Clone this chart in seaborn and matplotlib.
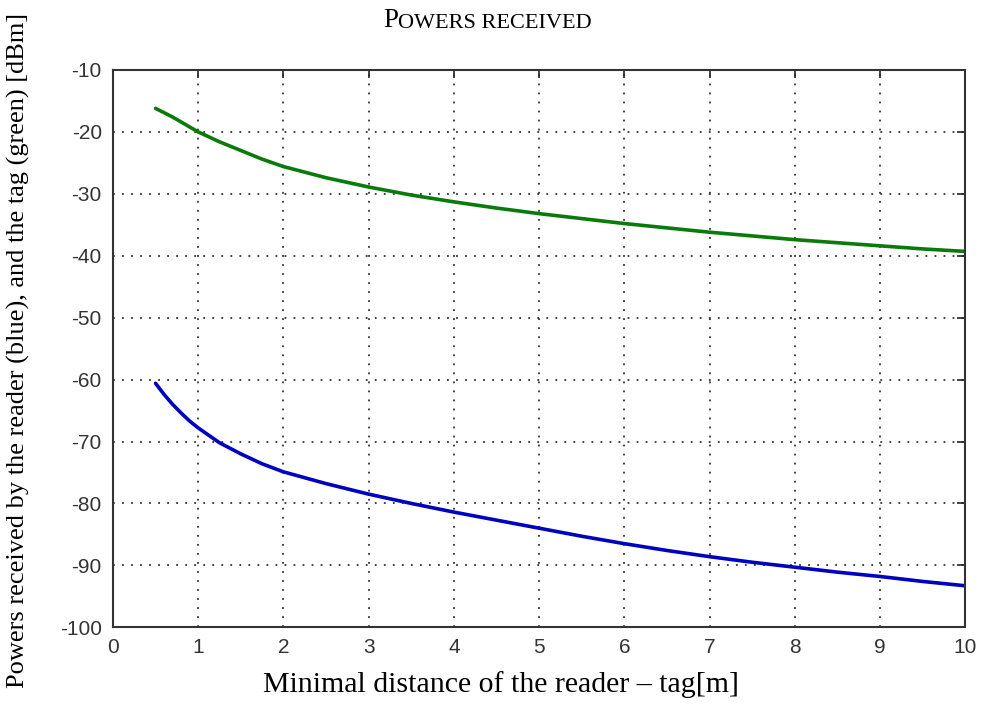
import numpy as np
import pandas as pd
import matplotlib
matplotlib.use("Agg")
import matplotlib.pyplot as plt
import seaborn as sns

# data
distance = [0.5, 0.6, 0.7, 0.8, 0.9, 1.0, 1.25, 1.5, 1.75, 2.0, 2.5, 3.0, 3.5, 4.0, 4.5,
            5.0, 5.5, 6.0, 6.5, 7.0, 7.5, 8.0, 8.5, 9.0, 9.5, 10.0]
tag_power = [-16.2, -16.9, -17.6, -18.4, -19.2, -20.0, -21.6, -23.0, -24.4, -25.6, -27.4,
             -28.9, -30.2, -31.3, -32.3, -33.2, -34.0, -34.8, -35.5, -36.2, -36.8, -37.4,
             -37.9, -38.4, -38.9, -39.3]
reader_power = [-60.6, -62.4, -64.0, -65.4, -66.7, -67.8, -70.2, -72.0, -73.6, -74.9, -76.8,
                -78.5, -80.0, -81.4, -82.7, -84.0, -85.3, -86.5, -87.6, -88.6, -89.5, -90.3,
                -91.1, -91.8, -92.6, -93.3]
x_ticks = [0, 1, 2, 3, 4, 5, 6, 7, 8, 9, 10]
y_ticks = [-100, -90, -80, -70, -60, -50, -40, -30, -20, -10]

sns.set_style("white")
plt.rcParams["font.family"] = ["Liberation Sans", "DejaVu Sans"]

df = pd.DataFrame({
    "distance": distance * 2,
    "power": tag_power + reader_power,
    "who": ["tag"] * len(distance) + ["reader"] * len(distance),
})

fig = plt.figure(figsize=(9.82, 7.04), dpi=100)
ax = fig.add_axes([0.115, 0.109, 0.868, 0.7916])

sns.lineplot(data=df, x="distance", y="power", hue="who",
             palette={"tag": "#0a7a0a", "reader": "#0000c0"},
             linewidth=2.6, legend=False, ax=ax, sort=True, estimator=None)

ax.set_xlim(0, 10)
ax.set_ylim(-100, -10)
ax.set_xticks(x_ticks)
ax.set_yticks(y_ticks)
ax.set_xticklabels([str(t) for t in x_ticks])
ax.set_yticklabels([str(t) for t in y_ticks])
ax.tick_params(direction="in", length=6, width=1.2, labelsize=15, colors="#222222",
               top=True, right=True)
ax.tick_params(axis="x", labelcolor="#333333", pad=8)
ax.tick_params(axis="y", labelcolor="#333333", pad=8)
ax.grid(True, color="#333333", linestyle=(0, (1, 4)), linewidth=1.3)
for s in ax.spines.values():
    s.set_color("#333333")
    s.set_linewidth(1.5)

ax.set_xlabel("Minimal distance of the reader \u2013 tag[m]", family="Liberation Serif",
              fontsize=21.5, color="black")
ax.xaxis.set_label_coords(0.455, -0.078)
ax.set_ylabel("Powers received by the reader (blue), and the tag (green) [dBm]",
              family="Liberation Serif", fontsize=19, color="black")
ax.yaxis.set_label_coords(-0.097, 0.497)

t1 = fig.text(383 / 982, 0.962, "P", family="Liberation Serif", fontsize=19.5,
              ha="left", va="baseline", color="black")
fig.add_artist(matplotlib.text.Annotation(
    "OWERS RECEIVED", xy=(1, 0), xycoords=t1, family="Liberation Serif",
    fontsize=16, ha="left", va="bottom", color="black"))

fig.savefig("out.png", dpi=100)
